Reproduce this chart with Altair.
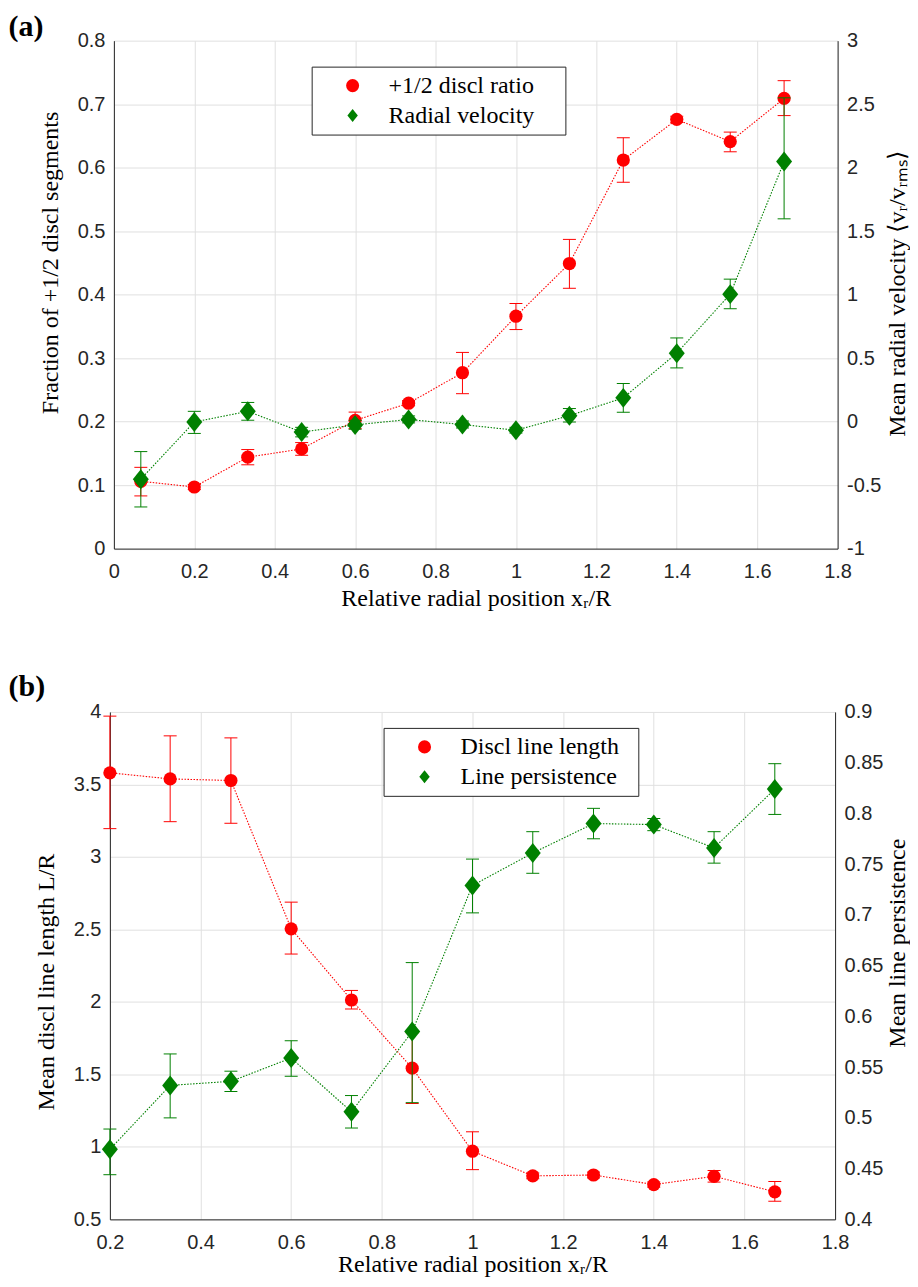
import altair as alt
import pandas as pd

# ---------------- data: panel (a) ----------------
xa = [0.067, 0.2, 0.333, 0.467, 0.6, 0.733, 0.867, 1.0, 1.133, 1.267, 1.4, 1.533, 1.667]
ratio = [0.106, 0.097, 0.144, 0.157, 0.202, 0.229, 0.277, 0.366, 0.449, 0.612, 0.676, 0.641, 0.709]
ratio_lo = [0.083, 0.093, 0.132, 0.147, 0.189, 0.225, 0.244, 0.345, 0.410, 0.577, 0.671, 0.625, 0.682]
ratio_hi = [0.128, 0.101, 0.156, 0.167, 0.215, 0.233, 0.309, 0.386, 0.487, 0.647, 0.681, 0.656, 0.737]
vel = [-0.453, -0.003, 0.081, -0.082, -0.026, 0.017, -0.023, -0.068, 0.047, 0.187, 0.539, 1.004, 2.048]
vel_lo = [-0.672, -0.093, 0.011, -0.120, -0.060, -0.010, -0.050, -0.090, -0.003, 0.073, 0.423, 0.889, 1.597]
vel_hi = [-0.236, 0.081, 0.151, -0.045, 0.010, 0.045, 0.005, -0.045, 0.103, 0.300, 0.659, 1.122, 2.550]

# ---------------- data: panel (b) ----------------
xb = [0.2, 0.333, 0.467, 0.6, 0.733, 0.867, 1.0, 1.133, 1.267, 1.4, 1.533, 1.667]
length = [3.580, 3.538, 3.527, 2.504, 2.013, 1.543, 0.970, 0.800, 0.806, 0.740, 0.797, 0.690]
length_lo = [3.195, 3.243, 3.232, 2.330, 1.951, 1.299, 0.843, 0.780, 0.786, 0.722, 0.757, 0.625]
length_hi = [3.971, 3.835, 3.821, 2.688, 2.079, 1.787, 1.104, 0.820, 0.826, 0.758, 0.837, 0.761]
persist = [0.469, 0.532, 0.536, 0.559, 0.506, 0.585, 0.729, 0.761, 0.790, 0.789, 0.766, 0.824]
persist_lo = [0.444, 0.500, 0.526, 0.541, 0.490, 0.515, 0.702, 0.741, 0.775, 0.783, 0.751, 0.799]
persist_hi = [0.489, 0.563, 0.546, 0.576, 0.522, 0.653, 0.755, 0.782, 0.805, 0.795, 0.782, 0.849]

# trailing blank room inside the legend boxes (kept by a zero-width end mark)
PAD_A = "\u00a0" * 4 + "\u200b"
PAD_B = "\u00a0" * 2 + "\u200b"
names_a = ["+1/2 discl ratio" + PAD_A, "Radial velocity" + PAD_A]
names_b = ["Discl line length" + PAD_B, "Line persistence" + PAD_B]

xticks_a = [0, 0.2, 0.4, 0.6, 0.8, 1.0, 1.2, 1.4, 1.6, 1.8]
xticks_b = [0.2, 0.4, 0.6, 0.8, 1.0, 1.2, 1.4, 1.6, 1.8]
yticks_a_left = [0, 0.1, 0.2, 0.3, 0.4, 0.5, 0.6, 0.7, 0.8]
yticks_a_right = [-1, -0.5, 0, 0.5, 1, 1.5, 2, 2.5, 3]
yticks_b_left = [0.5, 1, 1.5, 2, 2.5, 3, 3.5, 4]
yticks_b_right = [0.4, 0.45, 0.5, 0.55, 0.6, 0.65, 0.7, 0.75, 0.8, 0.85, 0.9]

RED = "#ff0000"
GREEN = "#008000"
DIAMOND = "M0,-1L0.8,0L0,1L-0.8,0Z"
DARK = "#262626"
GRID = "#e0e0e0"


def frame(x, v, lo, hi, name):
    return pd.DataFrame({"x": x, "v": v, "lo": lo, "hi": hi, "series": [name] * len(x)})


def x_axis(values, label_pad, title_pad):
    return alt.Axis(values=values, grid=True, gridColor=GRID, gridWidth=1, ticks=False,
                    labelPadding=label_pad, labelFont="Liberation Sans", labelFontSize=20,
                    labelColor=DARK, labelExpr="'' + datum.value", labelFlush=False,
                    labelOverlap=False, domainColor=DARK, domainWidth=1,
                    title="Relative radial position xᵣ/R", titleFont="Liberation Serif",
                    titleFontSize=24, titleFontWeight="normal", titleColor="black",
                    titlePadding=title_pad)


def y_axis(orient, values, grid, title, tx, ty, offset=0):
    return alt.Axis(orient=orient, values=values, grid=grid, gridColor=GRID, gridWidth=1,
                    ticks=False, labelPadding=9, labelFont="Liberation Sans", labelFontSize=20,
                    labelColor=DARK, labelExpr="'' + datum.value", labelFlush=False,
                    labelOverlap=False, domainColor=DARK, domainWidth=1, offset=offset,
                    title=title, titleFont="Liberation Serif", titleFontSize=24,
                    titleFontWeight="normal", titleColor="black", titleAngle=270,
                    titleX=tx, titleY=ty, titleBaseline="middle", titleAlign="center")


def side(df, color, size, ydom, xscale, yax, xax, names, legend):
    ys = alt.Scale(domain=ydom, nice=False, zero=False)
    base = alt.Chart(df)
    xq = alt.X("x:Q", scale=xscale, axis=xax)
    rule = base.mark_rule(color=color, strokeWidth=1).encode(
        x=xq, y=alt.Y("lo:Q", scale=ys, axis=yax), y2="hi:Q")
    cap_lo = base.mark_tick(orient="horizontal", size=13, thickness=1, color=color, opacity=1).encode(
        x=xq, y=alt.Y("lo:Q", scale=ys, axis=yax))
    cap_hi = base.mark_tick(orient="horizontal", size=13, thickness=1, color=color, opacity=1).encode(
        x=xq, y=alt.Y("hi:Q", scale=ys, axis=yax))
    line = base.mark_line(color=color, strokeWidth=1.1, strokeDash=[1.5, 1.5]).encode(
        x=xq, y=alt.Y("v:Q", scale=ys, axis=yax))
    pts = base.mark_point(filled=True, size=size, opacity=1, strokeWidth=0).encode(
        x=xq,
        y=alt.Y("v:Q", scale=ys, axis=yax),
        color=alt.Color("series:N", scale=alt.Scale(domain=names, range=[RED, GREEN]), legend=legend),
        shape=alt.Shape("series:N", scale=alt.Scale(domain=names, range=["circle", DIAMOND]), legend=legend),
    )
    return alt.layer(rule, cap_lo, cap_hi, line, pts)


def legend_at(lx, ly):
    return alt.Legend(orient="none", legendX=lx, legendY=ly, title=None, fillColor="white",
                      strokeColor=DARK, padding=7, rowPadding=6, symbolSize=170,
                      symbolStrokeWidth=0, symbolOffset=22, labelOffset=24, labelLimit=400,
                      labelFont="Liberation Serif", labelFontSize=24, labelColor="black",
                      cornerRadius=0)


def tag(text, dx, dy):
    return alt.Chart(pd.DataFrame({"t": [text]})).mark_text(
        align="left", baseline="top", font="Liberation Serif", fontSize=30,
        fontWeight="bold", color="black").encode(text="t:N", x=alt.value(dx), y=alt.value(dy))


xax_a = x_axis(xticks_a, 13, 5)
xax_b = x_axis(xticks_b, 13, 0)
xs_a = alt.Scale(domain=[0, 1.8], nice=False, zero=False)
# panel (b) plot starts 4 px further left than panel (a)
xs_b = alt.Scale(domain=[0.2, 1.8], range=[-4, 722], nice=False, zero=False)

# ---------------- panel (a) ----------------
leg_a = legend_at(198, 26)
red_a = side(frame(xa, ratio, ratio_lo, ratio_hi, names_a[0]), RED, 175, [0, 0.8], xs_a,
             y_axis("left", yticks_a_left, True, "Fraction of +1/2 discl segments", -63, 222),
             xax_a, names_a, leg_a)
green_a = side(frame(xa, vel, vel_lo, vel_hi, names_a[1]), GREEN, 400, [-1, 3], xs_a,
               y_axis("right", yticks_a_right, False, "Mean radial velocity ⟨vᵣ/vᵣₘₛ⟩", 60, 253),
               xax_a, names_a, leg_a)
panel_a = alt.layer(red_a, green_a, tag("(a)", -105.5, -29)).resolve_scale(y="independent").properties(
    width=724.5, height=508.5)

# ---------------- panel (b) ----------------
leg_b = legend_at(270, 16)
red_b = side(frame(xb, length, length_lo, length_hi, names_b[0]), RED, 175, [0.5, 4], xs_b,
             y_axis("left", yticks_b_left, True, "Mean discl line length L/R", -63, 270, offset=4),
             xax_b, names_b, leg_b)
green_b = side(frame(xb, persist, persist_lo, persist_hi, names_b[1]), GREEN, 400, [0.4, 0.9], xs_b,
               y_axis("right", yticks_b_right, False, "Mean line persistence", 62, 231),
               xax_b, names_b, leg_b)
panel_b = alt.layer(red_b, green_b, tag("(b)", -105.5, -40)).resolve_scale(y="independent").properties(
    width=722, height=508)

chart = alt.concat(panel_a, panel_b, columns=1, spacing=61).resolve_scale(
    color="independent", shape="independent", x="independent"
).properties(padding={"top": 3, "left": 0, "right": 0, "bottom": 0}).configure_view(strokeWidth=0)

chart.save("out.html", embed_options={"renderer": "svg", "actions": False})
